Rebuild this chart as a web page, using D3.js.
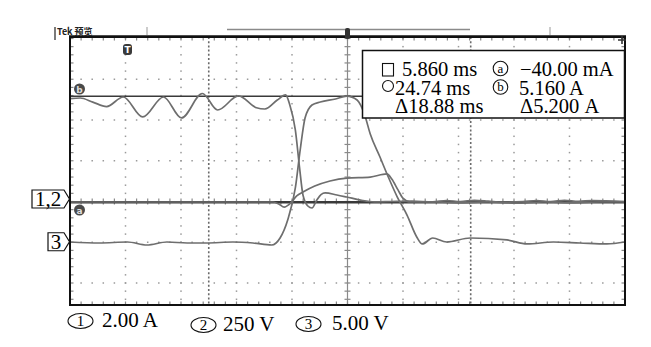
<!DOCTYPE html>
<html>
<head>
<meta charset="utf-8">
<script src="https://cdn.jsdelivr.net/npm/d3@7"></script>
<style>
  body { margin: 0; background: #fff; }
  svg { display: block; }
</style>
</head>
<body>
<svg id="scope" width="651" height="347"></svg>
<script>
// scope capture: 3 channels, 4 ms/div, cursors a/b (current) and two time cursors

// channel 1 - current (A)
var ch1T = [-4.14, -3.4, -2.5, -1.5, -0.3, 1.1, 2.6, 3.9, 5.4, 6.5, 8.0, 9.3, 9.9, 10.8, 11.4, 11.7, 12.1, 12.4, 12.65, 13.0, 13.3, 13.65, 13.95, 14.25, 15.1, 15.8, 16.8, 17.8, 19.0, 20.5, 22.0, 23.0, 24.0, 25.0, 26.0, 27.0, 28.5, 29.5, 30.5, 31.5, 32.5, 33.5, 35.86];
var ch1A = [5.05, 5.08, 4.88, 4.66, 5.13, 4.15, 5.13, 4.10, 5.30, 4.49, 5.18, 4.60, 4.54, 4.98, 5.23, 4.74, 3.51, 1.69, 0.32, -0.22, -0.32, 0.07, 0.34, 0.42, 0.32, 0.22, 0.07, -0.02, 0.00, 0.02, -0.02, 0.05, 0.00, 0.06, 0.02, -0.03, 0.00, 0.05, 0.00, 0.06, 0.01, 0.05, 0.00];

// channel 2 - voltage (V)
var ch2T = [-4.14, 10.5, 10.9, 11.3, 11.7, 12.2, 12.65, 13.5, 14.6, 15.8, 17.5, 18.7, 19.05, 19.5, 19.85, 20.4, 22, 24, 26, 28, 30, 32, 34, 35.86];
var ch2V = [-3, -3, -15, -34, -15, 34, 58, 95, 126, 144, 150, 169, 138, 71, 21, -3, -3, -8, -3, -10, -3, -8, -3, -3];

// channel 3 - voltage (V)
var ch3T = [-4.14, -2.0, 0.0, 1.4, 2.85, 4.3, 5.7, 7.6, 9.05, 10.4, 11.0, 11.55, 12.1, 12.45, 12.8, 13.3, 13.9, 15.0, 15.8, 16.55, 17.1, 17.5, 18.2, 18.8, 19.45, 20.15, 20.85, 21.25, 22.0, 23.0, 24.7, 27.35, 28.8, 30.7, 32.6, 34.55, 35.86];
var ch3V = [0.03, -0.09, 0.03, -0.34, 0.03, -0.09, -0.09, 0.03, -0.09, -0.34, 0.52, 2.73, 6.66, 11.32, 15.25, 16.84, 17.21, 17.58, 17.94, 17.46, 15.62, 13.28, 10.46, 8.01, 5.55, 3.34, 0.65, -0.21, 0.52, 0.03, 0.52, 0.28, -0.21, 0.03, -0.09, -0.21, 0.03];

// volts/amps per division and marker offsets (div)
var chScale = [2.00, 250, 5.00];
var chOffset = [0, 0, -1];
var chNames = ["1", "2", "3"];
var chUnits = ["2.00 A", "250 V", "5.00 V"];

// cursors
var timeCursors = [5.86, 24.74];
var ampCursors = [-0.04, 5.16];
var readLeft = ["5.860 ms", "24.74 ms", "\u039418.88 ms"];
var readRight = ["\u221240.00 mA", "5.160 A", "\u03945.200 A"];

var serif = "'Liberation Serif', 'Times New Roman', Times, serif";
var sans = "'DejaVu Sans', sans-serif";

var svg = d3.select("#scope");

// plot frame (window.top is reserved, so no plain "top")
var plotL = 70, plotR = 625, plotT = 37, plotB = 305;

// time (ms) across 10 div, vertical in divisions (8 div, bottom cropped)
var x = d3.scaleLinear().domain([-4.14, 35.86]).range([plotL, plotR]);
var y = d3.scaleLinear().domain([-4, 4]).range([364.5, 38.5]);

var grid = svg.append("g").attr("id", "grid");

var majorT = d3.range(0, 11).map(function(k) { return -4.14 + 4 * k; });
var minorT = d3.range(0, 51).map(function(k) { return -4.14 + 0.8 * k; });
var minorD = d3.range(-20, 21).map(function(k) { return k / 5; })
  .filter(function(d) { return y(d) < plotB - 1 && y(d) > plotT + 1; });
var centerT = majorT[5];

// dotted graticule columns
majorT.slice(1, 10).forEach(function(t, i) {
  if (i === 4) return;
  grid.selectAll(null).data(minorD).enter().append("rect")
    .attr("x", x(t) - 0.75).attr("y", function(d) { return y(d) - 0.75; })
    .attr("width", 1.5).attr("height", 1.5).attr("fill", "#9a9a9a");
});
// dotted graticule rows
[-2, -1, 1, 2, 3].forEach(function(d) {
  grid.selectAll(null).data(minorT.slice(1, 50)).enter().append("rect")
    .attr("x", function(t) { return x(t) - 0.75; }).attr("y", y(d) - 0.75)
    .attr("width", 1.5).attr("height", 1.5).attr("fill", "#9a9a9a");
});

// center axes with ticks
grid.append("line").attr("x1", x(centerT)).attr("x2", x(centerT))
  .attr("y1", plotT).attr("y2", plotB).attr("stroke", "#8a8a8a").attr("stroke-width", 1.2);
grid.selectAll(null).data(minorD).enter().append("line")
  .attr("x1", x(centerT) - 3).attr("x2", x(centerT) + 3)
  .attr("y1", function(d) { return y(d); }).attr("y2", function(d) { return y(d); })
  .attr("stroke", "#8a8a8a").attr("stroke-width", 1.2);
grid.selectAll(null).data(minorT.slice(1, 50)).enter().append("line")
  .attr("x1", function(t) { return x(t); }).attr("x2", function(t) { return x(t); })
  .attr("y1", y(0) - 3).attr("y2", y(0) + 3)
  .attr("stroke", "#8a8a8a").attr("stroke-width", 1.2);

// edge ticks
grid.selectAll(null).data(minorT.slice(1, 50)).enter().append("line")
  .attr("x1", function(t) { return x(t); }).attr("x2", function(t) { return x(t); })
  .attr("y1", plotT).attr("y2", plotT + 3.5).attr("stroke", "#888").attr("stroke-width", 1.2);
grid.selectAll(null).data(minorT.slice(1, 50)).enter().append("line")
  .attr("x1", function(t) { return x(t); }).attr("x2", function(t) { return x(t); })
  .attr("y1", plotB - 3.5).attr("y2", plotB).attr("stroke", "#888").attr("stroke-width", 1.2);
grid.selectAll(null).data(minorD).enter().append("line")
  .attr("x1", plotL).attr("x2", plotL + 3.5)
  .attr("y1", function(d) { return y(d); }).attr("y2", function(d) { return y(d); })
  .attr("stroke", "#888").attr("stroke-width", 1.2);
grid.selectAll(null).data(minorD).enter().append("line")
  .attr("x1", plotR - 3.5).attr("x2", plotR)
  .attr("y1", function(d) { return y(d); }).attr("y2", function(d) { return y(d); })
  .attr("stroke", "#888").attr("stroke-width", 1.2);

// time cursors (dashed)
svg.selectAll("line.tcur").data(timeCursors).enter().append("line")
  .attr("class", "tcur")
  .attr("x1", function(t) { return x(t); }).attr("x2", function(t) { return x(t); })
  .attr("y1", plotT).attr("y2", plotB)
  .attr("stroke", "#6a6a6a").attr("stroke-width", 1.6).attr("stroke-dasharray", "2,2.2");

// horizontal current cursors
function divOf(ch, v) { return v / chScale[ch] + chOffset[ch]; }
svg.selectAll("line.acur").data(ampCursors).enter().append("line")
  .attr("class", "acur")
  .attr("x1", plotL).attr("x2", plotR)
  .attr("y1", function(v) { return y(divOf(0, v)); }).attr("y2", function(v) { return y(divOf(0, v)); })
  .attr("stroke", "#3a3a3a").attr("stroke-width", function(v, i) { return i === 0 ? 2.4 : 1.5; });

// traces
svg.append("clipPath").attr("id", "clip").append("rect")
  .attr("x", plotL).attr("y", plotT).attr("width", plotR - plotL).attr("height", plotB - plotT);
var traces = svg.append("g").attr("clip-path", "url(#clip)");
var series = [[ch1T, ch1A], [ch2T, ch2V], [ch3T, ch3V]];
series.forEach(function(s, ch) {
  var pts = s[0].map(function(t, i) { return [t, s[1][i]]; });
  var line = d3.line()
    .x(function(p) { return x(p[0]); })
    .y(function(p) { return y(divOf(ch, p[1])); })
    .curve(d3.curveMonotoneX);
  traces.append("path").datum(pts)
    .attr("d", line).attr("fill", "none")
    .attr("stroke", "#6e6e6e").attr("stroke-width", 1.7);
});

// frame
svg.append("rect").attr("x", plotL).attr("y", plotT).attr("width", plotR - plotL).attr("height", plotB - plotT)
  .attr("fill", "none").attr("stroke", "#111").attr("stroke-width", 2);
svg.append("line").attr("x1", plotL - 1).attr("x2", plotR + 1).attr("y1", plotT - 0.5).attr("y2", plotT - 0.5)
  .attr("stroke", "#111").attr("stroke-width", 2.5);

// header
svg.append("line").attr("x1", 55).attr("x2", 55).attr("y1", 27).attr("y2", 40).attr("stroke", "#222").attr("stroke-width", 1.2);
svg.append("text").attr("x", 57).attr("y", 35).text("Tek \u9884\u89c8")
  .attr("font-family", "'Noto Sans CJK SC', 'DejaVu Sans', sans-serif")
  .attr("font-size", 9).attr("font-weight", "bold").attr("fill", "#222");
svg.append("line").attr("x1", 147).attr("x2", 147).attr("y1", 27).attr("y2", 35).attr("stroke", "#999").attr("stroke-width", 1);
svg.append("line").attr("x1", 550).attr("x2", 550).attr("y1", 27).attr("y2", 35).attr("stroke", "#999").attr("stroke-width", 1);
svg.append("line").attr("x1", 227).attr("x2", 470).attr("y1", 29.5).attr("y2", 29.5).attr("stroke", "#8a8a8a").attr("stroke-width", 1.5);
// trigger position marker
svg.append("rect").attr("x", x(centerT) - 2.5).attr("y", 28).attr("width", 5).attr("height", 11).attr("rx", 2)
  .attr("fill", "#333");
// right edge marker
svg.append("path").attr("d", "M618,40 L626,40 M622,36 L622,44").attr("stroke", "#333").attr("stroke-width", 1.6);

// T badge
svg.append("rect").attr("x", 123).attr("y", 44).attr("width", 9).attr("height", 11).attr("rx", 3).attr("fill", "#3a3a3a");
svg.append("text").attr("x", 127.5).attr("y", 53).attr("text-anchor", "middle").text("T")
  .attr("font-family", sans).attr("font-size", 9).attr("font-weight", "bold").attr("fill", "#fff");

// a / b badges
var badges = [{ l: "b", cy: 89 }, { l: "a", cy: 210 }];
badges.forEach(function(b) {
  svg.append("circle").attr("cx", 79.5).attr("cy", b.cy).attr("r", 5.5).attr("fill", "#4a4a4a");
  svg.append("text").attr("x", 79.5).attr("y", b.cy + 3.5).attr("text-anchor", "middle").text(b.l)
    .attr("font-family", sans).attr("font-size", 9).attr("font-weight", "bold").attr("fill", "#ddd");
});

// channel ground markers
var markers = [{ t: "1,2", x0: 32, yc: y(divOf(0, 0)) - 2.5 }, { t: "3", x0: 48, yc: y(divOf(2, 0)) - 0.5 }];
markers.forEach(function(m) {
  var h = 9;
  svg.append("path")
    .attr("d", "M" + m.x0 + "," + (m.yc - h) + " L64," + (m.yc - h) + " L69.5," + m.yc + " L64," + (m.yc + h) + " L" + m.x0 + "," + (m.yc + h) + " Z")
    .attr("fill", "#fff").attr("stroke", "#111").attr("stroke-width", 1.2);
  svg.append("text").attr("x", (m.x0 + 64) / 2).attr("y", m.yc + 7).attr("text-anchor", "middle")
    .attr("font-family", serif).attr("font-size", 21).text(m.t);
});

// cursor readout box
var box = svg.append("g");
box.append("rect").attr("x", 362.5).attr("y", 50.5).attr("width", 262).attr("height", 67.5)
  .attr("fill", "#fff").attr("stroke", "#111").attr("stroke-width", 1.5);
box.append("rect").attr("x", 382.5).attr("y", 63.5).attr("width", 11).attr("height", 12.5)
  .attr("fill", "none").attr("stroke", "#111").attr("stroke-width", 1.1);
box.append("circle").attr("cx", 388).attr("cy", 86).attr("r", 5.5)
  .attr("fill", "none").attr("stroke", "#111").attr("stroke-width", 1.1);
var leftX = [402, 395, 395];
var rightX = [520, 519, 520];
var baseY = [76, 94.5, 113];
readLeft.forEach(function(s, i) {
  box.append("text").attr("x", leftX[i]).attr("y", baseY[i])
    .attr("font-family", serif).attr("font-size", 20.5).text(s);
});
readRight.forEach(function(s, i) {
  box.append("text").attr("x", rightX[i]).attr("y", baseY[i])
    .attr("font-family", serif).attr("font-size", 20.5).text(s);
});
["a", "b"].forEach(function(l, i) {
  box.append("circle").attr("cx", 500.5).attr("cy", 68.5 + i * 18.5).attr("r", 7.3)
    .attr("fill", "none").attr("stroke", "#111").attr("stroke-width", 1.1);
  box.append("text").attr("x", 500.5).attr("y", 72.5 + i * 18.5).attr("text-anchor", "middle")
    .attr("font-family", serif).attr("font-size", 13).text(l);
});

// channel scale labels
var labelX = [80.5, 203.5, 308.5];
var labelTextX = [102, 223, 332];
var labelBase = [327, 331, 330];
chNames.forEach(function(n, i) {
  svg.append("ellipse").attr("cx", labelX[i]).attr("cy", labelBase[i] - 6).attr("rx", 12.5).attr("ry", 7.5)
    .attr("fill", "none").attr("stroke", "#111").attr("stroke-width", 1.1);
  svg.append("text").attr("x", labelX[i]).attr("y", labelBase[i] - 1).attr("text-anchor", "middle")
    .attr("font-family", serif).attr("font-size", 15).text(n);
  svg.append("text").attr("x", labelTextX[i]).attr("y", labelBase[i])
    .attr("font-family", serif).attr("font-size", 21).text(chUnits[i]);
});
</script>
</body>
</html>
